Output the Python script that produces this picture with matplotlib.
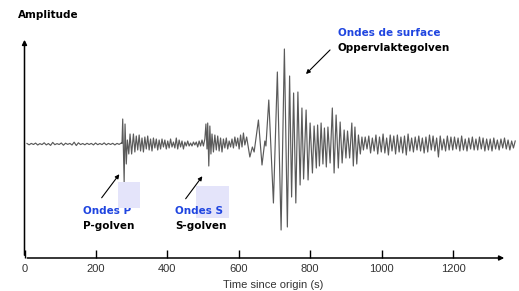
import numpy as np
import matplotlib
matplotlib.use("Agg")
import matplotlib.pyplot as plt
from matplotlib.patches import Rectangle

# --- dati letti dal sismogramma (tempo in s, ampiezza in unita' arbitrarie) ---
# rumore prima dell'onda P, campionato ogni 6 s a partire da 7 s
pre_p_start, pre_p_step = 7, 6
pre_p_amp = [0.5, -0.8, 0.6, -0.5, 0.9, -1.0, 0.4, -0.6, 1.2, -0.9,
             0.5, -1.4, 1.6, -0.7, 0.4, -0.5, 1.0, -1.2, 0.8, -0.4,
             0.6, -1.0, 1.8, -1.5, 1.2, -0.6, 0.5, -0.8, 0.7, -0.5,
             0.6, -0.9, 1.0, -0.7, 0.5, -0.6, 1.1, -0.8, 0.6, -0.5,
             0.7, -0.9, 0.6, -0.4, 1.0]

# arrivo onda P (estremi)
p_t = [273, 275, 279, 281.5, 285, 288, 292, 295.5, 300, 305]
p_amp = [0.5, 25, -38, 20, -20, 4, -10, 10, -10, 10]

# coda P, campionata ogni 4 s a partire da 309 s
p_coda_start, p_coda_step = 309, 4
p_coda_amp = [-8, 8, -6, 9, -7, 6, -8, 7, -5, 8,
              -6, 5, -7, 6, -4, 5, -6, 4, -5, 5,
              -3, 4, -5, 3, -4, 5, -3, 2, -4, 6,
              -5, 4, -3, 3, -5, 2, -2, 3, -2, 1,
              -2, 2, -1, 2, -3, 3, -2, 4, -2, 5]

# arrivo onda S (estremi)
s_t = [508, 511, 513, 516, 519, 522]
s_amp = [20, -5, 21, -22, 18, -10]

# coda S, campionata ogni 4 s a partire da 525 s
s_coda_start, s_coda_step = 525, 4
s_coda_amp = [10, -8, 9, -6, 8, -7, 6, -8, 5, -4, 6, -5,
              3, -3, 5, -4, 7, -2, 6, -5, 9, -3, 11, -1]

# onde di superficie (estremi)
surf_t = [622, 631, 638, 643, 655, 665, 673, 676, 684, 697, 708, 718.5,
          727.7, 736, 742.3, 747.9, 753.5, 759.7, 765.5, 771.7, 776.8, 781.5,
          788.5, 794, 799.7, 806.2, 810.9, 817.1, 820.7, 825.8, 830.5, 835.6,
          839.8, 845.1, 849.6, 855.7, 861.9, 866.9, 872.5, 878.7, 883.8, 889.4,
          895, 900, 904.5, 910.4, 916.5, 920.7, 925.2, 930.3, 935, 940.3, 944.8]
surf_amp = [7, -13, -3, -8, 24, -21, 3, -2, 44, -59, 72, -86,
            95, -83, 68, -53, 51, -59, 52, -41, 36, -35,
            34, -36, 21, -29, 18, -24, 19, -22, 21, -20,
            16, -23, 17, -19, 36, -29, 29, -24, 22, -19,
            14, -14, 13, -14, 21, -22, 17, -20, 9, -10, 7]

# coda finale, campionata ogni 5 s a partire da 949 s
coda_start, coda_step = 949, 5
coda_amp = [-6, 7, -5, 8, -9, 6, -7, 9, -10, 7,
            -8, 10, -9, 6, -11, 9, -7, 8, -10, 9,
            -8, 7, -9, 8, -11, 10, -7, 6, -8, 7,
            -6, 8, -7, 6, -9, 7, -8, 9, -6, 8,
            -7, 6, -13, 8, -6, 5, -7, 8, -6, 7,
            -6, 7, -5, 6, -7, 8, -6, 5, -7, 6,
            -5, 7, -6, 5, -6, 7, -5, 6, -7, 5,
            -6, 5, -7, 6, -5, 4, -6, 5, -4, 6,
            -5, 4, -6, 3, -4, 3]

x_ticks = [0, 200, 400, 600, 800, 1000, 1200]


def grid(start, step, values):
    return list(start + step * np.arange(len(values)))


trace_t = (grid(pre_p_start, pre_p_step, pre_p_amp) + p_t
           + grid(p_coda_start, p_coda_step, p_coda_amp) + s_t
           + grid(s_coda_start, s_coda_step, s_coda_amp) + surf_t
           + grid(coda_start, coda_step, coda_amp))
trace_a = pre_p_amp + p_amp + p_coda_amp + s_amp + s_coda_amp + surf_amp + coda_amp

W, H = 519, 291
fig = plt.figure(figsize=(W / 100, H / 100), dpi=100)

# assi: origine a (24.5, 258) px, freccia x fino a 507 px, freccia y fino a 37 px
ax = fig.add_axes([24.5 / W, 33 / H, (507 - 24.5) / W, (258 - 37) / H])
ax.set_xlim(0, 1351)
ax.set_ylim(-114, 107)
ax.plot(trace_t, trace_a, color="#5a5a5a", lw=0.85, clip_on=False, zorder=2)

for s in ax.spines.values():
    s.set_visible(False)
ax.annotate("", xy=(1, 0), xytext=(0, 0), xycoords="axes fraction",
            arrowprops=dict(arrowstyle="-|>", lw=1.1, color="black", mutation_scale=7))
ax.annotate("", xy=(0, 1), xytext=(0, 0), xycoords="axes fraction",
            arrowprops=dict(arrowstyle="-|>", lw=1.1, color="black", mutation_scale=7))

ax.set_xticks(x_ticks)
ax.set_xticklabels([str(v) for v in x_ticks])
ax.tick_params(axis="x", direction="in", length=6, width=1.0, pad=4,
               labelsize=8, labelcolor="#333333")
for lab in ax.get_xticklabels():
    lab.set_family("Liberation Sans")
ax.set_yticks([])

# overlay in pixel per testi e annotazioni
ov = fig.add_axes([0, 0, 1, 1])
ov.set_xlim(0, W)
ov.set_ylim(H, 0)
ov.axis("off")
ov.patch.set_alpha(0)

ov.text(273, 285, "Time since origin (s)", ha="center", va="center",
        fontsize=8, color="#333333", family="Liberation Sans")
ov.text(18, 15, "Amplitude", ha="left", va="center", fontsize=7.5,
        fontweight="bold", color="black")

# riquadri chiari: quello della P copre in parte il testo, quello della S sta sotto
ov.add_patch(Rectangle((118, 182), 22, 26, facecolor="#e4e4fa", edgecolor="none", zorder=5))
ov.add_patch(Rectangle((196, 186), 33, 32, facecolor="#e4e4fa", edgecolor="none", zorder=2))

blue = "#1f45e0"
lbl = dict(ha="left", va="center", fontsize=7.5, fontweight="bold", zorder=4)
ov.text(338, 33, "Ondes de surface", color=blue, **lbl)
ov.text(338, 48, "Oppervlaktegolven", color="black", **lbl)
ov.text(83, 211, "Ondes P", color=blue, **lbl)
ov.text(83, 226, "P-golven", color="black", **lbl)
ov.text(175, 211, "Ondes S", color=blue, **lbl)
ov.text(175, 226, "S-golven", color="black", **lbl)

arr = dict(arrowstyle="-|>", lw=0.8, color="black", mutation_scale=6)
ov.annotate("", xy=(304, 76), xytext=(332, 48), arrowprops=arr)
ov.annotate("", xy=(121, 172), xytext=(100, 200), arrowprops=arr)
ov.annotate("", xy=(204, 174), xytext=(184, 201), arrowprops=arr)

fig.savefig("out.png", dpi=100)
